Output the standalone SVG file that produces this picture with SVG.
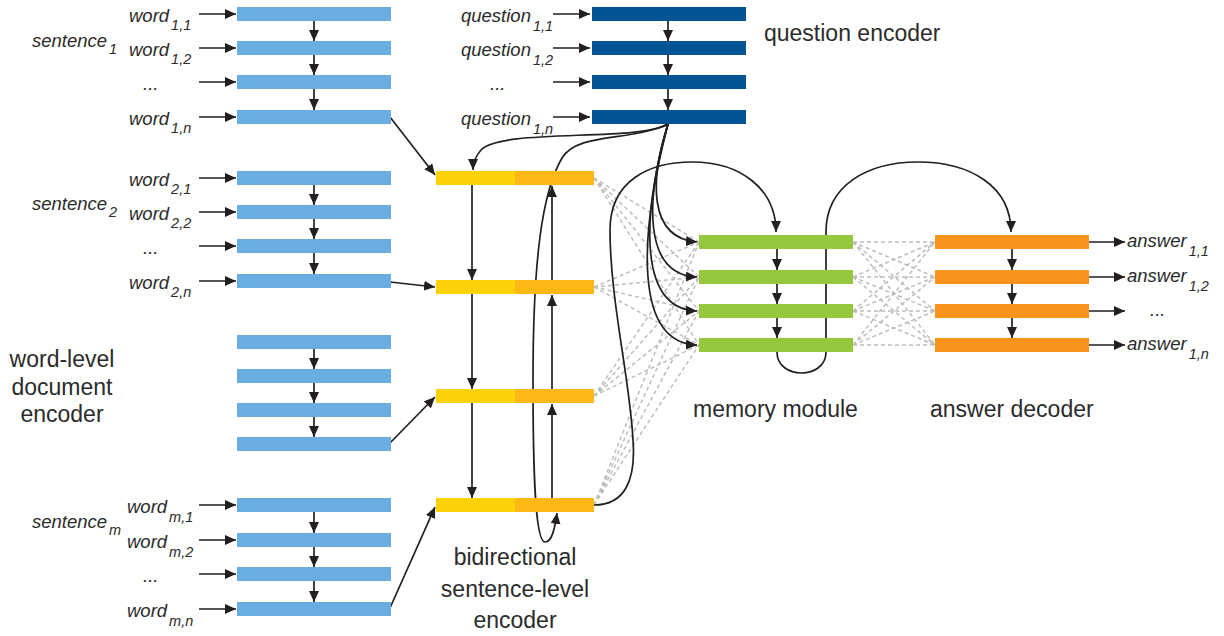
<svg xmlns="http://www.w3.org/2000/svg" width="1224" height="636" viewBox="0 0 1224 636">
<style>
.lbl{font-family:"Liberation Sans",Arial,sans-serif;font-style:italic;font-size:18.5px;fill:#2B2B2B}
.sub{font-size:14.5px}
.head{font-family:"Liberation Sans",Arial,sans-serif;font-size:23px;fill:#2B2B2B}
.arr{stroke:#231F20;stroke-width:1.7;fill:none;marker-end:url(#ah)}
.dash{stroke:#BDBDBD;stroke-width:1.5;stroke-dasharray:4 3;fill:none}
.wb{fill:#6AADE0}
.qb{fill:#045394}
.y1{fill:#FDD20A}
.y2{fill:#FCB817}
.gb{fill:#96C83F}
.ob{fill:#F7941E}
</style>
<defs>
<marker id="ah" viewBox="0 0 11 10" refX="11" refY="5" markerWidth="11" markerHeight="10" markerUnits="userSpaceOnUse" orient="auto">
<path d="M0,0 L11,5 L0,10 z" fill="#231F20"/>
</marker>
</defs>
<rect width="1224" height="636" fill="#fff"/>

<g id="connectors">
<g class="dash">
<path d="M594,178L699,242M594,178L699,277M594,178L699,311M594,178L699,345"/>
<path d="M594,287L699,242M594,287L699,277M594,287L699,311M594,287L699,345"/>
<path d="M594,396L699,242M594,396L699,277M594,396L699,311M594,396L699,345"/>
<path d="M594,505L699,242M594,505L699,277M594,505L699,311M594,505L699,345"/>
<path d="M853,242L935,242M853,242L935,277M853,242L935,311M853,242L935,345"/>
<path d="M853,277L935,242M853,277L935,277M853,277L935,311M853,277L935,345"/>
<path d="M853,311L935,242M853,311L935,277M853,311L935,311M853,311L935,345"/>
<path d="M853,345L935,242M853,345L935,277M853,345L935,311M853,345L935,345"/>
</g>
<path class="arr" d="M199,14H236"/><path class="arr" d="M199,48H236"/><path class="arr" d="M199,82H236"/><path class="arr" d="M199,117H236"/>
<path class="arr" d="M199,178H236"/><path class="arr" d="M199,212H236"/><path class="arr" d="M199,246H236"/><path class="arr" d="M199,281H236"/>
<path class="arr" d="M199,505H236"/><path class="arr" d="M199,540H236"/><path class="arr" d="M199,574H236"/><path class="arr" d="M199,609H236"/>
<path class="arr" d="M314,21V41"/><path class="arr" d="M314,55V75"/><path class="arr" d="M314,89V110"/>
<path class="arr" d="M314,185V205"/><path class="arr" d="M314,219V239"/><path class="arr" d="M314,253V274"/>
<path class="arr" d="M314,349V369"/><path class="arr" d="M314,383V403"/><path class="arr" d="M314,417V437"/>
<path class="arr" d="M314,512V533"/><path class="arr" d="M314,547V567"/><path class="arr" d="M314,581V602"/>
<path class="arr" d="M553,14H590"/><path class="arr" d="M553,48H590"/><path class="arr" d="M553,82H590"/><path class="arr" d="M553,117H590"/>
<path class="arr" d="M668,21V41"/><path class="arr" d="M668,55V75"/><path class="arr" d="M668,89V110"/>
<path class="arr" d="M390,117L435,175"/>
<path class="arr" d="M390,282L435,287"/>
<path class="arr" d="M390,443L435,397"/>
<path class="arr" d="M390,608L435,507"/>
<path class="arr" d="M472,185V280"/><path class="arr" d="M472,294V389"/><path class="arr" d="M472,403V498"/>
<path class="arr" d="M552,280V186"/><path class="arr" d="M552,389V295"/><path class="arr" d="M552,498V404"/>
<path class="arr" d="M668,124C640,142 500,128 481,150C475,157 473,162 473,170"/>
<path class="arr" d="M668,124C630,142 578,132 562,158C542,192 533,260 533,380C533,470 535,542 545,542C552,542 555,528 557,513"/>
<path class="arr" d="M668,124C650,180 648,238 697,242"/>
<path class="arr" d="M668,124C645,200 643,275 697,277"/>
<path class="arr" d="M668,124C641,220 639,309 697,311"/>
<path class="arr" d="M668,124C638,240 635,343 697,345"/>
<path class="arr" d="M594,505C625,505 636,480 633,440C630,380 610,300 610,230C610,180 650,162 692,162C742,162 776,190 776,232"/>
<path class="arr" d="M777,249V270"/><path class="arr" d="M777,284V304"/><path class="arr" d="M777,318V338"/>
<path class="arr" d="M777,352C777,380 826,380 826,352L826,232C826,185 868,162 918,162C970,162 1011,186 1011,232"/>
<path class="arr" d="M1012,249V270"/><path class="arr" d="M1012,284V304"/><path class="arr" d="M1012,318V338"/>
<path class="arr" d="M1089,242H1125"/><path class="arr" d="M1089,277H1125"/><path class="arr" d="M1089,311H1125"/><path class="arr" d="M1089,345H1125"/>
</g>

<g id="word-encoder-s1">
<rect class="wb" x="237" y="7" width="154" height="14"/>
<rect class="wb" x="237" y="41" width="154" height="14"/>
<rect class="wb" x="237" y="75" width="154" height="14"/>
<rect class="wb" x="237" y="110" width="154" height="14"/>
</g>
<g id="word-encoder-s2">
<rect class="wb" x="237" y="171" width="154" height="14"/>
<rect class="wb" x="237" y="205" width="154" height="14"/>
<rect class="wb" x="237" y="239" width="154" height="14"/>
<rect class="wb" x="237" y="274" width="154" height="14"/>
</g>
<g id="word-encoder-s3">
<rect class="wb" x="237" y="335" width="154" height="14"/>
<rect class="wb" x="237" y="369" width="154" height="14"/>
<rect class="wb" x="237" y="403" width="154" height="14"/>
<rect class="wb" x="237" y="437" width="154" height="14"/>
</g>
<g id="word-encoder-sm">
<rect class="wb" x="237" y="498" width="154" height="14"/>
<rect class="wb" x="237" y="533" width="154" height="14"/>
<rect class="wb" x="237" y="567" width="154" height="14"/>
<rect class="wb" x="237" y="602" width="154" height="14"/>
</g>
<g id="question-encoder">
<rect class="qb" x="592" y="7" width="154" height="14"/>
<rect class="qb" x="592" y="41" width="154" height="14"/>
<rect class="qb" x="592" y="75" width="154" height="14"/>
<rect class="qb" x="592" y="110" width="154" height="14"/>
</g>
<g id="sentence-encoder">
<rect class="y1" x="436" y="171" width="80" height="14"/><rect class="y2" x="515" y="171" width="79" height="14"/>
<rect class="y1" x="436" y="280" width="80" height="14"/><rect class="y2" x="515" y="280" width="79" height="14"/>
<rect class="y1" x="436" y="389" width="80" height="14"/><rect class="y2" x="515" y="389" width="79" height="14"/>
<rect class="y1" x="436" y="498" width="80" height="14"/><rect class="y2" x="515" y="498" width="79" height="14"/>
</g>
<g id="memory-module">
<rect class="gb" x="699" y="235" width="154" height="14"/>
<rect class="gb" x="699" y="270" width="154" height="14"/>
<rect class="gb" x="699" y="304" width="154" height="14"/>
<rect class="gb" x="699" y="338" width="154" height="14"/>
</g>
<g id="answer-decoder">
<rect class="ob" x="935" y="235" width="154" height="14"/>
<rect class="ob" x="935" y="270" width="154" height="14"/>
<rect class="ob" x="935" y="304" width="154" height="14"/>
<rect class="ob" x="935" y="338" width="154" height="14"/>
</g>

<g id="labels">
<text class="lbl" x="129" y="22">word<tspan class="sub" dx="2" dy="8">1,1</tspan></text>
<text class="lbl" x="129" y="56">word<tspan class="sub" dx="2" dy="8">1,2</tspan></text>
<text class="lbl" x="143" y="90">...</text>
<text class="lbl" x="129" y="125">word<tspan class="sub" dx="2" dy="8">1,n</tspan></text>
<text class="lbl" x="32" y="47">sentence<tspan class="sub" dx="2" dy="7">1</tspan></text>

<text class="lbl" x="129" y="186">word<tspan class="sub" dx="2" dy="8">2,1</tspan></text>
<text class="lbl" x="129" y="220">word<tspan class="sub" dx="2" dy="8">2,2</tspan></text>
<text class="lbl" x="143" y="254">...</text>
<text class="lbl" x="129" y="289">word<tspan class="sub" dx="2" dy="8">2,n</tspan></text>
<text class="lbl" x="32" y="210">sentence<tspan class="sub" dx="2" dy="7">2</tspan></text>

<text class="lbl" x="127" y="513">word<tspan class="sub" dx="2" dy="9">m,1</tspan></text>
<text class="lbl" x="127" y="548">word<tspan class="sub" dx="2" dy="9">m,2</tspan></text>
<text class="lbl" x="143" y="582">...</text>
<text class="lbl" x="127" y="617">word<tspan class="sub" dx="2" dy="9">m,n</tspan></text>
<text class="lbl" x="32" y="528">sentence<tspan class="sub" dx="2" dy="7">m</tspan></text>

<text class="lbl" x="461" y="22">question<tspan class="sub" dx="2" dy="9">1,1</tspan></text>
<text class="lbl" x="461" y="56">question<tspan class="sub" dx="2" dy="9">1,2</tspan></text>
<text class="lbl" x="490" y="90">...</text>
<text class="lbl" x="461" y="125">question<tspan class="sub" dx="2" dy="9">1,n</tspan></text>

<text class="lbl" x="1127" y="247">answer<tspan class="sub" dx="2" dy="9">1,1</tspan></text>
<text class="lbl" x="1127" y="282">answer<tspan class="sub" dx="2" dy="9">1,2</tspan></text>
<text class="lbl" x="1150" y="316">...</text>
<text class="lbl" x="1127" y="350">answer<tspan class="sub" dx="2" dy="9">1,n</tspan></text>

<text class="head" x="764" y="41">question encoder</text>
<text class="head" x="693" y="417">memory module</text>
<text class="head" x="930" y="417">answer decoder</text>
<text class="head" text-anchor="middle" x="62" y="367">word-level</text>
<text class="head" text-anchor="middle" x="62" y="395">document</text>
<text class="head" text-anchor="middle" x="62" y="422">encoder</text>
<text class="head" text-anchor="middle" x="515" y="565">bidirectional</text>
<text class="head" text-anchor="middle" x="515" y="597">sentence-level</text>
<text class="head" text-anchor="middle" x="515" y="628">encoder</text>
</g>
</svg>
